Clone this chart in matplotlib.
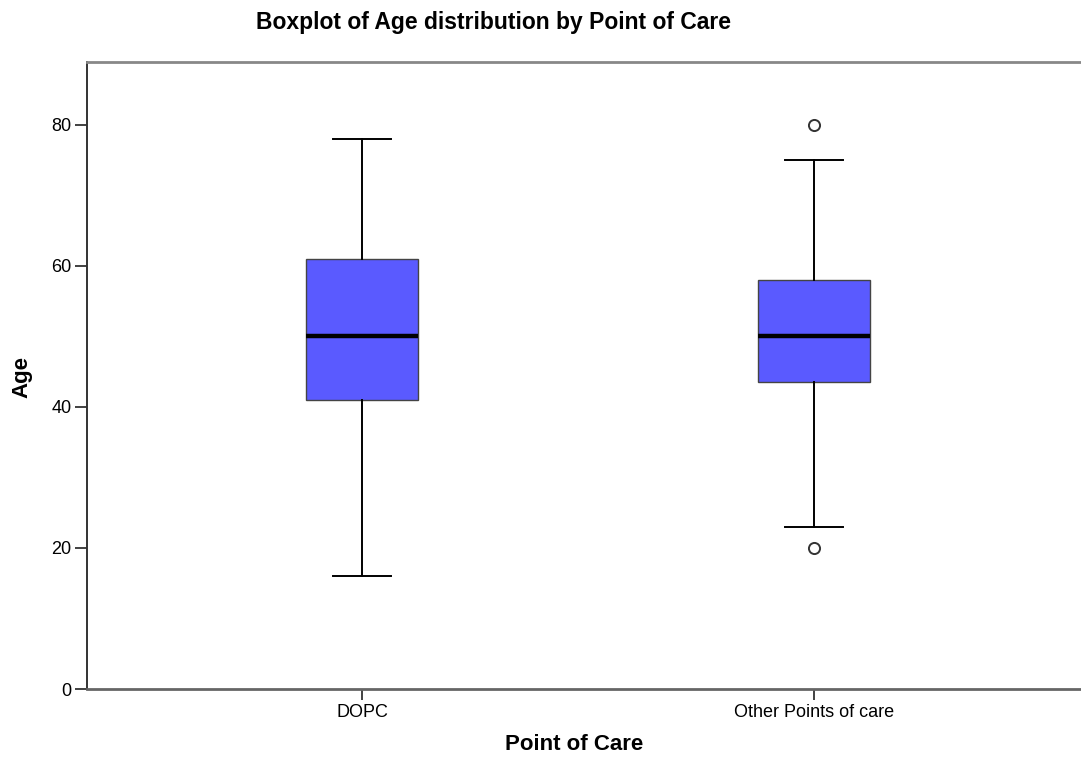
import matplotlib
matplotlib.use("Agg")
import matplotlib.pyplot as plt

plt.rcParams['font.family'] = ['Liberation Sans', 'DejaVu Sans']

# summary values
groups = ["DOPC", "Other Points of care"]
whislo = [16, 23]
q1 = [41, 43.5]
med = [50, 50]
q3 = [61, 58]
whishi = [78, 75]
fliers = [[], [80, 20]]

stats = []
for i in range(len(groups)):
    stats.append({"label": groups[i], "whislo": whislo[i], "q1": q1[i], "med": med[i],
                  "q3": q3[i], "whishi": whishi[i], "fliers": fliers[i]})

fig = plt.figure(figsize=(10.81, 7.57), dpi=100)
ax = fig.add_axes([87/1081, 1 - 689/757, 1 - 87/1081, (689 - 62)/757])

ax.bxp(stats, positions=[1, 2], widths=0.248, capwidths=0.128, patch_artist=True,
       boxprops=dict(facecolor="#5a5aff", edgecolor="#444444", linewidth=1.0),
       medianprops=dict(color="black", linewidth=3.2),
       whiskerprops=dict(color="black", linewidth=1.4),
       capprops=dict(color="black", linewidth=1.4),
       flierprops=dict(marker="o", markersize=8, markerfacecolor="none",
                       markeredgecolor="#333333", markeredgewidth=1.4))

ax.set_xlim(0.392, 2.59)
ax.set_ylim(0, 88.9)
ax.set_yticks([0, 20, 40, 60, 80])
ax.tick_params(axis="y", length=9, width=1.3, color="#333333", labelsize=13, pad=2)
ax.tick_params(axis="x", length=8, width=1.3, color="#333333", labelsize=13, pad=3)

ax.spines["right"].set_visible(False)
ax.spines["left"].set_color("#333333")
ax.spines["left"].set_linewidth(1.4)
ax.spines["top"].set_color("#888888")
ax.spines["top"].set_linewidth(2)
ax.spines["bottom"].set_color("#666666")
ax.spines["bottom"].set_linewidth(2)

fig.text(493/1081, 1 - 23/757, "Boxplot of Age distribution by Point of Care",
         ha="center", va="center", fontsize=16.5, fontweight="bold")
fig.text(574/1081, 1 - 745/757, "Point of Care", ha="center", va="center",
         fontsize=16, fontweight="bold")
fig.text(22/1081, 1 - 377/757, "Age", ha="center", va="center", rotation=90,
         fontsize=16, fontweight="bold")

fig.savefig("out.png", dpi=100)
